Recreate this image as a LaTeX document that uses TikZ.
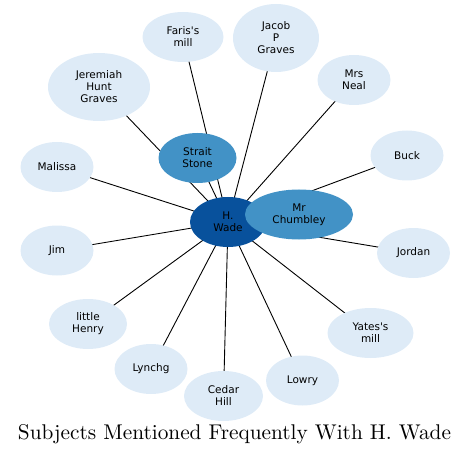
\documentclass[tikz,border=0pt]{standalone}
\usepackage{fontspec}
\usepackage{graphicx}
\usepackage{tikz}
\usetikzlibrary{shapes.geometric,backgrounds}
\usepackage{xcolor}
\newfontfamily\nodefont{DejaVu Sans}
\definecolor{cLight}{RGB}{222,235,247}
\definecolor{cMid}{RGB}{66,146,198}
\definecolor{cDeep}{RGB}{8,81,156}
\tikzset{
  basebox/.style={ellipse,draw=none,inner sep=0pt,align=center,
                  font=\nodefont\fontsize{10.5}{12}\selectfont,
                  minimum width=73pt,minimum height=50pt},
  lightnode/.style={basebox,fill=cLight},
  midnode/.style={basebox,fill=cMid},
  hubnode/.style={basebox,fill=cDeep,minimum width=76pt},
  tallnode/.style={lightnode,minimum height=68pt},
  titlelabel/.style={inner sep=0pt,anchor=base},
  link/.style={draw=black,line width=0.9pt}
}

\begin{document}
\begin{tikzpicture}[x=1pt,y=-1pt]
  \useasboundingbox (0,0) rectangle (471,457);

  \node[hubnode] (wade) at (228,222) {H.\\Wade};
  \node[midnode,minimum width=108pt] (chumbley) at (299,214.5) {Mr\\Chumbley};
  \node[midnode,minimum width=78pt] (strait) at (197.5,158) {Strait\\Stone};

  \node[lightnode,minimum width=81pt] (faris) at (183,37) {Faris's\\mill};
  \node[tallnode,minimum width=86pt] (jacob) at (276,38) {Jacob\\P\\Graves};
  \node[lightnode] (neal) at (354,80) {Mrs\\Neal};
  \node[tallnode,minimum width=102pt] (jeremiah) at (99,87) {Jeremiah\\Hunt\\Graves};
  \node[lightnode] (malissa) at (57,167) {Malissa};
  \node[lightnode] (buck) at (407,155.5) {Buck};
  \node[lightnode] (jim) at (57,250.5) {Jim};
  \node[lightnode] (jordan) at (413.5,253) {Jordan};
  \node[lightnode,minimum width=78pt] (henry) at (88,324) {little\\Henry};
  \node[lightnode,minimum width=86pt] (yates) at (370.5,333) {Yates's\\mill};
  \node[lightnode] (lynchg) at (151,369) {Lynchg};
  \node[lightnode] (lowry) at (302.5,380.5) {Lowry};
  \node[lightnode,minimum width=79pt] (cedar) at (223.5,396) {Cedar\\Hill};

  \node[titlelabel] (title) at (234.5,439)
      {\scalebox{2.13}{Subjects Mentioned Frequently With H. Wade}};

  % spokes from the hub, kept behind the ellipses
  \begin{pgfonlayer}{background}
    \draw[link] (wade.center) -- (chumbley.center);
    \draw[link] (wade.center) -- (strait.center);
    \draw[link] (wade.center) -- (faris.center);
    \draw[link] (wade.center) -- (jacob.center);
    \draw[link] (wade.center) -- (neal.center);
    \draw[link] (wade.center) -- (jeremiah.center);
    \draw[link] (wade.center) -- (malissa.center);
    \draw[link] (wade.center) -- (buck.center);
    \draw[link] (wade.center) -- (jim.center);
    \draw[link] (wade.center) -- (jordan.center);
    \draw[link] (wade.center) -- (henry.center);
    \draw[link] (wade.center) -- (yates.center);
    \draw[link] (wade.center) -- (lynchg.center);
    \draw[link] (wade.center) -- (lowry.center);
    \draw[link] (wade.center) -- (cedar.center);
  \end{pgfonlayer}
\end{tikzpicture}
\end{document}
